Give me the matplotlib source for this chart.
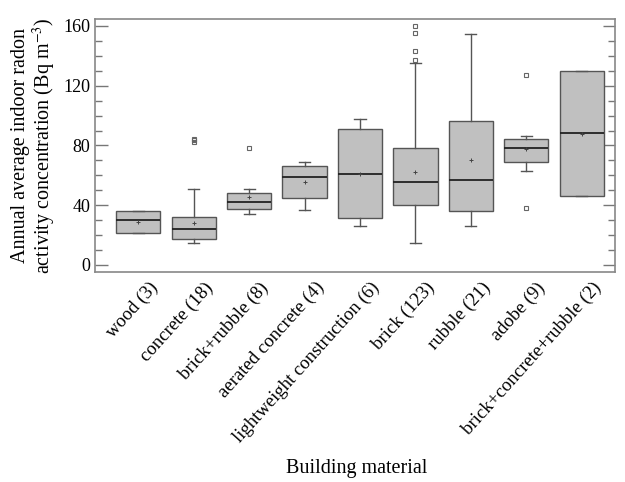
import matplotlib
matplotlib.use("Agg")
import matplotlib.pyplot as plt
import matplotlib.transforms as mtransforms
from matplotlib.ticker import MultipleLocator

plt.rcParams['font.family'] = ['Liberation Serif', 'DejaVu Serif']
plt.rcParams['mathtext.fontset'] = 'stix'

materials = ["wood (3)", "concrete (18)", "brick+rubble (8)", "aerated concrete (4)",
             "lightweight construction (6)", "brick (123)", "rubble (21)", "adobe (9)",
             "brick+concrete+rubble (2)"]
q1 = [21.4, 17.2, 37.7, 45.0, 31.2, 40.4, 36.1, 69.2, 46.2]
med = [30.1, 23.9, 42.0, 58.7, 61.1, 55.3, 56.9, 78.1, 88.1]
q3 = [36.1, 32.1, 48.4, 66.5, 91.0, 78.1, 96.2, 84.1, 130.1]
wlo = [21.4, 14.5, 34.4, 37.0, 26.3, 14.5, 26.3, 62.9, 46.2]
whi = [36.1, 51.1, 51.1, 69.2, 97.5, 135.0, 154.8, 86.1, 130.1]
means = [29.0, 28.0, 45.7, 55.8, 61.0, 62.5, 70.0, 77.4, 88.0]
outliers = [[], [82.0, 83.5, 84.5], [78.1], [], [], [137.1, 143.1, 155.0, 160.0], [],
            [38.2, 127.0], []]

stats = []
for i in range(len(materials)):
    stats.append(dict(q1=q1[i], med=med[i], q3=q3[i], whislo=wlo[i], whishi=whi[i],
                      mean=means[i], fliers=outliers[i]))

fig = plt.figure(figsize=(6.25, 4.82), dpi=100)
ax = fig.add_axes([0.152, 0.4357, 0.832, 0.525])

edge = '#555555'
ax.bxp(stats, positions=range(1, 10), widths=0.8, patch_artist=True, showmeans=True,
       boxprops=dict(facecolor='#c0c0c0', edgecolor=edge, linewidth=1.0),
       medianprops=dict(color='#222222', linewidth=1.3),
       whiskerprops=dict(color=edge, linewidth=1.0),
       capprops=dict(color=edge, linewidth=1.0),
       capwidths=0.2,
       flierprops=dict(marker='s', markersize=2.5, markerfacecolor='none',
                       markeredgecolor='#666666', markeredgewidth=0.8),
       meanprops=dict(marker='+', markersize=3, markeredgecolor='#444444',
                      markeredgewidth=0.7))

ax.set_xlim(0.22, 9.6)
ax.set_ylim(-4.7, 164.7)
ax.yaxis.set_major_locator(MultipleLocator(40))
ax.yaxis.set_minor_locator(MultipleLocator(10))
ax.tick_params(axis='y', which='both', direction='in', right=True, colors='#777777',
               labelcolor='black', labelsize=13)
ax.tick_params(axis='y', which='major', length=9, width=1)
ax.tick_params(axis='y', which='minor', length=5, width=1)
ax.tick_params(axis='x', length=0, labelsize=13.5, pad=5)
ax.set_xticks(range(1, 10))
ax.set_xticklabels(materials, rotation=48, ha='right', va='top', rotation_mode='anchor')
shift = mtransforms.ScaledTranslation(0.1, 0, fig.dpi_scale_trans)
for lab in ax.get_xticklabels():
    lab.set_transform(lab.get_transform() + shift)
for s in ax.spines.values():
    s.set_color('#888888')
    s.set_linewidth(1.2)

ax.set_ylabel("Annual average indoor radon\nactivity concentration (Bq m$^{-3}$)",
              fontsize=14.5, linespacing=1.0, labelpad=4)
fig.text(0.571, 0.029, "Building material", fontsize=14.5, ha='center', va='center')

fig.savefig("out.png", dpi=100)
